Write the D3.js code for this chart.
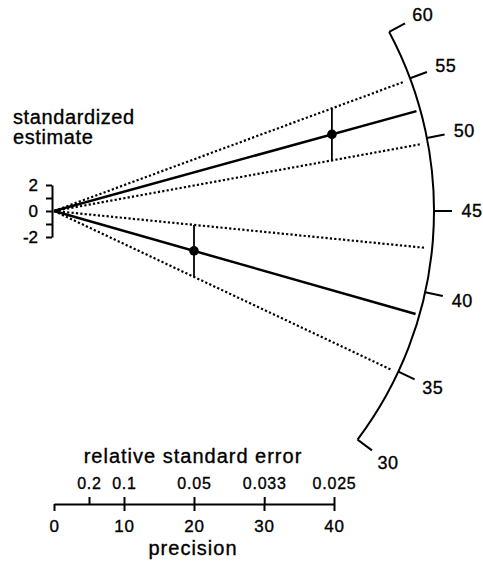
<!DOCTYPE html>
<html>
<head>
<meta charset="utf-8">
<script src="https://cdn.jsdelivr.net/npm/d3@7"></script>
<style>
  body { margin: 0; background: #fff; }
  text { font-family: "Liberation Sans", Arial, sans-serif; fill: #000; stroke: #000; stroke-width: 0.35px; }
</style>
</head>
<body>
<svg id="chart"></svg>
<script>
// estimates and their precisions (1 / relative standard error)
const estimates = [52.2, 38.6];
const precisions = [39.7, 20];
const centralValue = 45;

const arcTicks = [30, 35, 40, 45, 50, 55, 60];
const precisionTicks = [0, 10, 20, 30, 40];
const rseTicks = [0.2, 0.1, 0.05, 0.0333, 0.025];
const rseLabels = ["0.2", "0.1", "0.05", "0.033", "0.025"];
const zTicks = [-2, -1, 0, 1, 2];

const width = 483, height = 562;
const svg = d3.select("#chart").attr("width", width).attr("height", height);

// precision along x, standardized estimate along y
const x = d3.scaleLinear().domain([0, 40]).range([54, 334]);
const y = d3.scaleLinear().domain([-2, 2]).range([237, 185]);

const ox = x(0), oy = y(0);
const arcR = 380;

// angle of a line with slope s (z units per unit of precision)
const angleOf = s => Math.atan2(y(s) - y(0), x(1) - x(0));
const slopeOf = v => Math.log(v) - Math.log(centralValue);
const polar = (a, r) => [ox + r * Math.cos(a), oy + r * Math.sin(a)];

const pts = estimates.map((e, i) => {
  const p = precisions[i];
  const z = slopeOf(e) * p;
  return { e, p, z };
});

// dotted lines through the ends of the +-2 error bars
pts.forEach(d => {
  [-2, 2].forEach(k => {
    const a = angleOf((d.z + k) / d.p);
    const [x2, y2] = polar(a, 373);
    svg.append("line")
      .attr("x1", ox).attr("y1", oy)
      .attr("x2", x2).attr("y2", y2)
      .attr("stroke", "#000")
      .attr("stroke-width", 2.2)
      .attr("stroke-dasharray", "2.2,2.2");
  });
});

// solid lines through each estimate
pts.forEach(d => {
  const [x2, y2] = polar(angleOf(slopeOf(d.e)), 376);
  svg.append("line")
    .attr("x1", ox).attr("y1", oy)
    .attr("x2", x2).attr("y2", y2)
    .attr("stroke", "#000")
    .attr("stroke-width", 2.5);
});

// error bars and points
svg.selectAll("line.err")
  .data(pts)
  .enter()
  .append("line")
  .attr("class", "err")
  .attr("x1", d => x(d.p)).attr("x2", d => x(d.p))
  .attr("y1", d => y(d.z - 2)).attr("y2", d => y(d.z + 2))
  .attr("stroke", "#000")
  .attr("stroke-width", 1.8);

svg.selectAll("circle.pt")
  .data(pts)
  .enter()
  .append("circle")
  .attr("class", "pt")
  .attr("cx", d => x(d.p))
  .attr("cy", d => y(d.z))
  .attr("r", 4.8)
  .attr("fill", "#000");

// radial scale arc
const a0 = angleOf(slopeOf(d3.max(arcTicks)));
const a1 = angleOf(slopeOf(d3.min(arcTicks)));
const arcPath = d3.path();
arcPath.arc(ox, oy, arcR, a0, a1, false);
svg.append("path")
  .attr("d", arcPath.toString())
  .attr("fill", "none")
  .attr("stroke", "#000")
  .attr("stroke-width", 2);

arcTicks.forEach(t => {
  const a = angleOf(slopeOf(t));
  const [xa, ya] = polar(a, arcR);
  const [xb, yb] = polar(a, arcR + 18);
  const [xl, yl] = polar(a, arcR + 38);
  svg.append("line")
    .attr("x1", xa).attr("y1", ya)
    .attr("x2", xb).attr("y2", yb)
    .attr("stroke", "#000")
    .attr("stroke-width", 2);
  svg.append("text")
    .attr("x", xl).attr("y", yl)
    .attr("dy", "0.36em")
    .attr("text-anchor", "middle")
    .style("font-size", "18px")
    .style("letter-spacing", "0.5px")
    .text(t);
});

// standardized estimate axis (left bracket)
const zAxis = svg.append("g")
  .attr("transform", `translate(52,0)`)
  .call(d3.axisLeft(y)
    .tickValues(zTicks)
    .tickSize(6)
    .tickSizeOuter(0)
    .tickPadding(8)
    .tickFormat(d => d % 2 === 0 ? d3.format("d")(d).replace("\u2212", "-") : ""));
zAxis.selectAll("path, line").attr("stroke", "#000").attr("stroke-width", 2);
zAxis.selectAll("text").style("font-size", "17px").attr("fill", "#000");

svg.append("text").attr("x", 13).attr("y", 124)
  .style("font-size", "20px").style("letter-spacing", "0.6px")
  .text("standardized");
svg.append("text").attr("x", 13).attr("y", 144)
  .style("font-size", "20px").style("letter-spacing", "0.6px")
  .text("estimate");

// precision axis (below) and relative standard error axis (above)
const axisY = 504;
const pAxis = svg.append("g")
  .attr("transform", `translate(0,${axisY})`)
  .call(d3.axisBottom(x)
    .tickValues(precisionTicks)
    .tickSize(7)
    .tickSizeOuter(0)
    .tickPadding(9));
pAxis.selectAll("path, line").attr("stroke", "#000").attr("stroke-width", 2);
pAxis.selectAll("text").style("font-size", "17px").style("letter-spacing", "0.8px").attr("fill", "#000");

const rAxis = svg.append("g")
  .attr("transform", `translate(0,${axisY})`)
  .call(d3.axisTop(x)
    .tickValues(rseTicks.map(r => 1 / r))
    .tickSize(7)
    .tickSizeOuter(0)
    .tickPadding(8)
    .tickFormat((d, i) => rseLabels[i]));
rAxis.select(".domain").remove();
rAxis.selectAll("line").attr("stroke", "#000").attr("stroke-width", 2);
rAxis.selectAll("text").style("font-size", "16px").style("letter-spacing", "0.8px").attr("fill", "#000");

svg.append("text").attr("x", 193).attr("y", 463)
  .attr("text-anchor", "middle")
  .style("font-size", "20px").style("letter-spacing", "1px")
  .text("relative standard error");
svg.append("text").attr("x", 193).attr("y", 555)
  .attr("text-anchor", "middle")
  .style("font-size", "20px").style("letter-spacing", "1px")
  .text("precision");
</script>
</body>
</html>
